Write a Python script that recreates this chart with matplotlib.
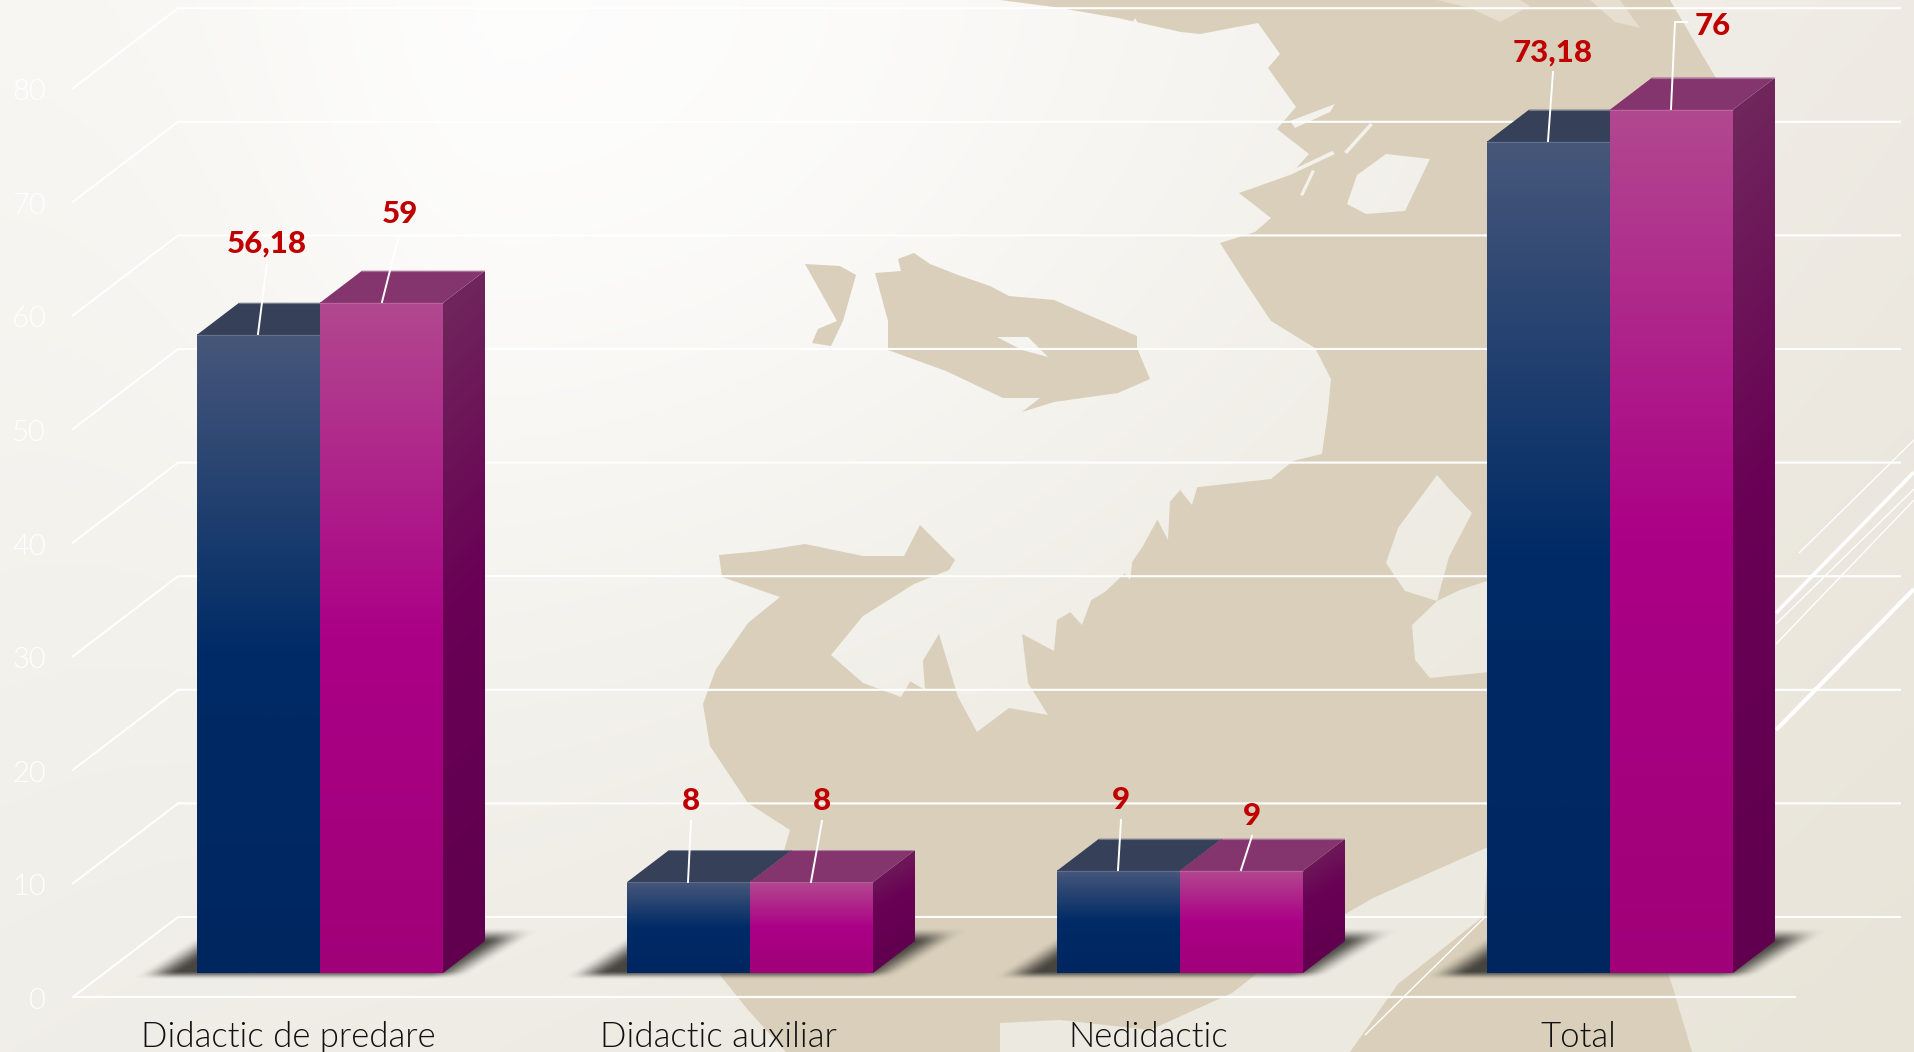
import numpy as np
import matplotlib
matplotlib.use('Agg')
import matplotlib.pyplot as plt
from matplotlib.colors import LinearSegmentedColormap, to_rgb
from matplotlib.patches import Polygon, PathPatch
from matplotlib.path import Path

W, H = 1914, 1052

categories = ['Didactic de predare', 'Didactic auxiliar', 'Nedidactic', 'Total']
series_a = [56.18, 8, 9, 73.18]
series_b = [59, 8, 9, 76]
y_ticks = [0, 10, 20, 30, 40, 50, 60, 70, 80]

# layout, in reference pixels
PX_X, PX_Y = 430.0, 11.36       # pixels per category / per value unit
X0_PX, Y0_PX = 320.0, 973.0     # first group centre, bar baseline
BAR_W = 123.0 / PX_X
DEPTH_X, DEPTH_Y = 42.0 / PX_X, 32.0 / PX_Y
FLOOR_DX, FLOOR_DY = 105.0, 80.0
FLOOR_Y = 997.0
GRID_X0, GRID_X1 = 73.0, 1795.0

leaders_a = [[(258, 334), (267, 263)], [(688, 882), (691, 821)],
             [(1118, 870), (1121, 820)], [(1548, 141), (1553, 72)]]
leaders_b = [[(382, 302), (399, 235)], [(811, 882), (822, 821)],
             [(1241, 870), (1252, 836)], [(1671, 109), (1675, 22), (1687, 22)]]
labels_a = [(267, 241), (691, 798), (1121, 797), (1553, 50)]
labels_b = [(400, 211), (822, 798), (1252, 813), (1713, 23)]

LAND = '#d9cfba'

# background map, traced by eye
land_main = [(1000, 0), (1054, 7), (1118, 18), (1181, 32), (1200, 34), (1258, 23), (1280, 54),
             (1268, 68), (1296, 107), (1277, 129), (1309, 154), (1290, 175), (1239, 193),
             (1271, 218), (1255, 232), (1220, 243), (1245, 282), (1271, 321), (1315, 348),
             (1331, 379), (1328, 411), (1322, 454), (1293, 461), (1271, 479), (1181, 489),
             (1162, 511), (1143, 546), (1124, 574), (1105, 592), (1057, 620), (1054, 651),
             (1022, 634), (1028, 683), (1048, 715), (1009, 708), (977, 732), (958, 697),
             (939, 634), (901, 697), (863, 683), (831, 655), (863, 616), (914, 584), (949, 570),
             (955, 560), (920, 525), (904, 556), (863, 556), (805, 544), (761, 551), (719, 555),
             (722, 577), (780, 597), (748, 623), (716, 669), (703, 704), (710, 746), (748, 803),
             (790, 830), (770, 900), (720, 975), (748, 1010), (786, 1052), (1692, 1052),
             (1672, 985), (1660, 950), (1760, 700), (1760, 200), (1717, 80), (1670, 0)]
island = [(875, 273), (901, 271), (898, 259), (914, 253), (930, 264), (958, 275), (990, 286),
          (1009, 296), (1054, 300), (1086, 314), (1137, 336), (1137, 348), (1150, 379),
          (1118, 393), (1054, 402), (1022, 412), (1040, 398), (1003, 398), (946, 371),
          (888, 350), (888, 321)]
islet = [(805, 264), (840, 266), (856, 275), (843, 321), (831, 346), (812, 343), (818, 329),
         (837, 321)]
water = [
    [(997, 337), (1028, 337), (1048, 357), (1022, 350)],
    [(1386, 154), (1430, 159), (1405, 211), (1366, 214), (1347, 204), (1357, 175)],
    [(1437, 475), (1398, 528), (1386, 563), (1405, 591), (1437, 601), (1449, 557), (1472, 513),
     (1450, 490)],
    [(1437, 601), (1412, 625), (1415, 660), (1430, 678), (1490, 672), (1490, 580), (1460, 590)],
    [(1290, 121), (1335, 104), (1330, 112), (1295, 128)],
    # coast teeth
    [(1200, 478), (1192, 505), (1180, 490)], [(1170, 500), (1168, 540), (1155, 515)],
    [(1135, 540), (1130, 580), (1118, 565)], [(1095, 590), (1082, 625), (1070, 612)],
    [(990, 650), (1000, 700), (985, 690)], [(920, 620), (925, 690), (908, 680)],
    [(880, 615), (880, 680), (868, 660)], [(1230, 60), (1250, 100), (1225, 75)],
    [(1135, 18), (1150, 45), (1128, 30)], [(1215, 195), (1225, 240), (1205, 215)],
    # thin inlets
    [(1373, 125), (1347, 154), (1344, 152), (1370, 123)],
    [(1335, 154), (1290, 175), (1288, 172), (1332, 151)],
    [(1315, 171), (1303, 196), (1300, 195), (1312, 170)],
]
pale_patches = [
    [(1437, 0), (1470, 8), (1500, 22), (1530, 6), (1520, 0)],
    [(1590, 0), (1615, 22), (1640, 28), (1620, 0)],
]
light_band = [(1000, 1023), (1060, 1020), (1150, 1030), (1232, 993), (1300, 940), (1373, 898),
              (1488, 847), (1484, 916), (1398, 984), (1350, 1052), (1000, 1052)]
deco_lines = [((1799, 553), (1914, 440), 1.0), ((1776, 613), (1914, 472), 2.6),
              ((1776, 624), (1914, 489), 1.0), ((1776, 644), (1914, 500), 1.0),
              ((1776, 730), (1914, 589), 3.0), ((1365, 1035), (1486, 916), 1.0)]

plt.rcParams['font.family'] = ['Lato', 'DejaVu Sans']


def ramp(name, stops):
    return LinearSegmentedColormap.from_list(name, stops)


def px_x(p):
    return (p - X0_PX) / PX_X


def px_y(p):
    return (Y0_PX - p) / PX_Y


def smooth(t):
    t = np.clip(t, 0, 1)
    return t * t * (3 - 2 * t)


def draw_background(axb):
    xx, yy = np.meshgrid(np.linspace(0, 1, 200), np.linspace(0, 1, 110))
    corners = {'tl': (247, 246, 242), 'tr': (238, 234, 227), 'bl': (240, 238, 232), 'br': (232, 228, 216)}
    img = np.zeros(xx.shape + (3,))
    for c in range(3):
        top = corners['tl'][c] * (1 - xx) + corners['tr'][c] * xx
        bot = corners['bl'][c] * (1 - xx) + corners['br'][c] * xx
        img[..., c] = top * (1 - yy) + bot * yy
    sx = np.where(xx < 0.27, 0.17, 0.40)
    glow = np.exp(-((xx - 0.27) / sx) ** 2 - (yy / 0.55) ** 2)
    img = (img + (255 - img) * glow[..., None] * 0.85) / 255
    axb.imshow(img, extent=(0, W, H, 0), aspect='auto', interpolation='bilinear', zorder=0)
    axb.add_patch(Polygon(land_main, fc=LAND, ec='none', zorder=1))
    axb.add_patch(Polygon(island, fc=LAND, ec='none', zorder=1))
    axb.add_patch(Polygon(islet, fc=LAND, ec='none', zorder=1))
    for w in pale_patches:
        axb.add_patch(Polygon(w, fc='#e6dfcf', ec='none', zorder=2))
    # lakes and inlets show the same backdrop through the land
    holes = Path.make_compound_path(*[Path(w + [w[0]], closed=True) for w in water])
    through = axb.imshow(img, extent=(0, W, H, 0), aspect='auto', interpolation='bilinear', zorder=2)
    through.set_clip_path(PathPatch(holes, transform=axb.transData))
    axb.add_patch(Polygon(light_band, fc='#ece9e1', ec='none', zorder=2))
    for a, b, lw in deco_lines:
        axb.plot([a[0], b[0]], [a[1], b[1]], color='white', lw=lw, zorder=3, solid_capstyle='butt')
    axb.set_xlim(0, W)
    axb.set_ylim(H, 0)
    axb.axis('off')


def draw_shadow(ax, left, right):
    # soft skewed shadow on the floor behind one group
    hs = np.linspace(-10, 60, 90)
    xs = np.linspace(left - 85 / PX_X, right + 170 / PX_X, 180)
    xg, hg = np.meshgrid(xs, hs)
    xp = xg * PX_X
    lx = left * PX_X - 60 + 60 * hg / 38
    rx = right * PX_X + 30 + 62 * hg / 38
    a = smooth((xp - lx) / 42) * smooth((rx - xp) / 42)
    a = a * smooth((hg + 7) / 9) * smooth((46 - hg) / 16) * 0.95
    rgba = np.zeros(a.shape + (4,))
    rgba[..., :3] = to_rgb('#3e3c37')
    rgba[..., 3] = a
    ax.imshow(rgba, extent=(xs[0], xs[-1], hs[0] / PX_Y, hs[-1] / PX_Y), origin='lower',
              aspect='auto', interpolation='bilinear', zorder=3)


def draw_bar(ax, x0, v, front_cmap, side_cmap, top_color, z):
    x1 = x0 + BAR_W
    grad = np.linspace(0, 1, 1024)[:, None]
    ax.imshow(grad, extent=(x0, x1, 0, v), origin='upper', aspect='auto', cmap=front_cmap,
              vmin=0, vmax=1, interpolation='bilinear', zorder=z)
    # side face: gradient runs a little diagonally
    fx, fy = np.meshgrid(np.linspace(0, 1, 48), np.linspace(0, 1, 1024))
    side = ax.imshow(np.clip(fy + fx * 0.18 * min(1, 20 / v), 0, 1),
                     extent=(x1, x1 + DEPTH_X, 0, v + DEPTH_Y), origin='upper', aspect='auto',
                     cmap=side_cmap, vmin=0, vmax=1, interpolation='bilinear', zorder=z)
    side.set_clip_path(Polygon([(x1, 0), (x1 + DEPTH_X, DEPTH_Y), (x1 + DEPTH_X, v + DEPTH_Y), (x1, v)],
                               transform=ax.transData))
    ax.add_patch(Polygon([(x0, v), (x1, v), (x1 + DEPTH_X, v + DEPTH_Y), (x0 + DEPTH_X, v + DEPTH_Y)],
                         fc=top_color, ec='none', zorder=z))
    ax.plot([x0 + DEPTH_X, x1 + DEPTH_X], [v + DEPTH_Y] * 2, color='white', alpha=0.3, lw=0.8, zorder=z)
    ax.plot([x0, x1], [v, v], color='white', alpha=0.15, lw=0.8, zorder=z)


fig = plt.figure(figsize=(W / 100, H / 100), dpi=100)
ax_bg = fig.add_axes([0, 0, 1, 1], zorder=0)
ax = fig.add_axes([0, 0, 1, 1], zorder=1)
ax_top = fig.add_axes([0, 0, 1, 1], zorder=2)
ax.patch.set_alpha(0)
ax_top.patch.set_alpha(0)

draw_background(ax_bg)

# floor and walls in value units
floor_front = px_y(FLOOR_Y)
floor_back = px_y(FLOOR_Y - FLOOR_DY)
gx0, gx1 = px_x(GRID_X0), px_x(GRID_X1)
gdx = FLOOR_DX / PX_X
tick_drop = 4 / PX_Y
for t in y_ticks:
    ax.plot([gx0, gx0 + gdx, gx1 + gdx], [floor_front + t, floor_back + t, floor_back + t],
            color='white', lw=1.5, solid_joinstyle='miter', zorder=2)
    ax.text(px_x(46), floor_front + t - tick_drop, str(t), ha='right', va='center', color='white',
            fontsize=21, fontweight=300, zorder=2)
ax.plot([gx0, gx1], [floor_front, floor_front], color='white', lw=1.6, zorder=2)

blue = ramp('blue', [(0, '#47577a'), (0.5, '#002b66'), (1, '#002660')])
magenta = ramp('magenta', [(0, '#b2488f'), (0.5, '#ab0086'), (1, '#a00078')])
side_m = ramp('side_m', [(0, '#702a5c'), (0.5, '#690055'), (1, '#60004e')])

for i in range(len(categories)):
    left = i - BAR_W
    draw_shadow(ax, left, i + BAR_W)
    draw_bar(ax, left, series_a[i], blue, side_m, '#364159', 4)
    draw_bar(ax, i, series_b[i], magenta, side_m, '#85356e', 5)
    ax.text(i + px_x(288), px_y(1037), categories[i], ha='center', va='center', color='#111111',
            fontsize=25, fontweight=300, zorder=6)

for vals, leaders, labels in [(series_a, leaders_a, labels_a), (series_b, leaders_b, labels_b)]:
    for v, line, pos in zip(vals, leaders, labels):
        ax_top.plot([p[0] for p in line], [p[1] for p in line], color='white', lw=1.4)
        ax_top.text(pos[0], pos[1] + 3, f'{v:g}'.replace('.', ','), ha='center', va='center',
                    color='#c00000', fontsize=22.5, fontweight='black')

ax.set_xlim(px_x(0), px_x(W))
ax.set_ylim(px_y(H), px_y(0))
ax.axis('off')
ax_top.set_xlim(0, W)
ax_top.set_ylim(H, 0)
ax_top.axis('off')

fig.savefig('out.png', dpi=100)
